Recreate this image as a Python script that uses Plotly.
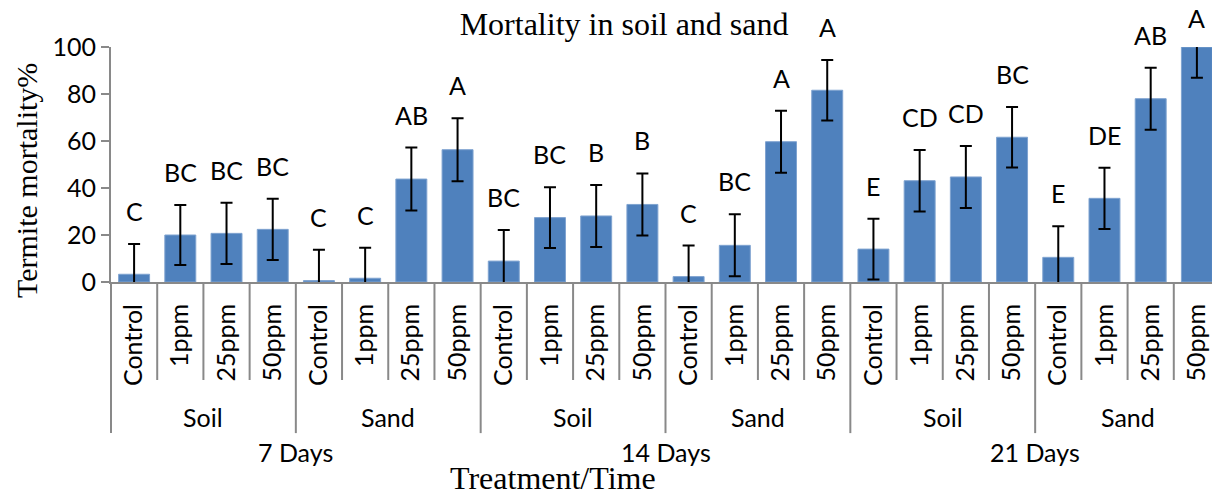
import plotly.graph_objects as go

times = ['7 Days', '14 Days', '21 Days']
substrates = ['Soil', 'Sand']
treatments = ['Control', '1ppm', '25ppm', '50ppm']

# mean mortality (%) in order: time > substrate > treatment
mortality = [3.3, 20.0, 20.7, 22.4, 0.6, 1.6, 43.8, 56.3,
             8.9, 27.4, 28.1, 33.0, 2.3, 15.6, 59.7, 81.6,
             14.0, 43.1, 44.7, 61.6, 10.5, 35.6, 78.0, 100.0]
errors = [12.9, 12.8, 13.0, 13.0, 13.1, 13.0, 13.4, 13.4,
          13.2, 12.9, 13.2, 13.2, 13.2, 13.2, 13.2, 12.9,
          12.9, 13.1, 13.2, 12.9, 13.2, 13.0, 13.2, 13.1]
letters = ['C', 'BC', 'BC', 'BC', 'C', 'C', 'AB', 'A',
           'BC', 'BC', 'B', 'B', 'C', 'BC', 'A', 'A',
           'E', 'CD', 'CD', 'BC', 'E', 'DE', 'AB', 'A']

n = len(mortality)
xs = list(range(n))
tick_text = [t for _ in times for _ in substrates for t in treatments]

sans = 'Lato'
serif = 'Liberation Serif'
grey = '#898989'
fsize = 25

fig = go.Figure()
fig.add_trace(go.Bar(
    x=xs, y=mortality, width=0.67,
    marker=dict(color='#4F81BD', line=dict(color='#7FA3D0', width=1)),
    error_y=dict(type='data', array=errors, color='black', thickness=2, width=6),
))

# significance letters above error bars
for i in xs:
    top = mortality[i] + errors[i]
    shift = 33 if top <= 100 else 29
    fig.add_annotation(x=i, y=min(top, 100), text=letters[i], showarrow=False,
                       yanchor='middle', yshift=shift,
                       font=dict(family=sans, size=fsize, color='black'))

# divider lines under the axis
per_sub = len(treatments)
for i in range(n + 1):
    long = i % per_sub == 0
    fig.add_shape(type='line', xref='paper', yref='paper',
                  x0=i / n, x1=i / n, y0=0, y1=-0.643 if long else -0.417,
                  line=dict(color=grey, width=2))

# substrate labels
for k in range(len(times) * len(substrates)):
    fig.add_annotation(x=k * per_sub + (per_sub - 1) / 2, y=-0.574, xref='x', yref='paper',
                       text=substrates[k % len(substrates)], showarrow=False,
                       xanchor='center', yanchor='middle',
                       font=dict(family=sans, size=fsize, color='black'))

# time labels
per_time = per_sub * len(substrates)
for k, t in enumerate(times):
    fig.add_annotation(x=k * per_time + (per_time - 1) / 2, y=-0.723, xref='x', yref='paper',
                       text=t, showarrow=False, xanchor='center', yanchor='middle',
                       font=dict(family=sans, size=fsize, color='black'))

fig.add_annotation(x=(553 - 111) / 1109, y=-0.834, xref='paper', yref='paper',
                   text='Treatment/Time', showarrow=False, xanchor='center', yanchor='middle',
                   font=dict(family=serif, size=32, color='black'))
fig.add_annotation(x=-0.0757, y=0.43, xref='paper', yref='paper', text='Termite mortality%',
                   textangle=-90, showarrow=False, xanchor='center', yanchor='middle',
                   font=dict(family=serif, size=30, color='black'))

# page body has an 8px offset, margins compensate for it
fig.update_layout(
    width=1220, height=493,
    margin=dict(l=103, r=8, t=39, b=219, autoexpand=False),
    plot_bgcolor='white', paper_bgcolor='white',
    showlegend=False,
    title=dict(text='Mortality in soil and sand', x=0.505, xref='container', xanchor='center',
               y=1 - 16 / 493, yanchor='middle',
               font=dict(family=serif, size=32, color='black')),
    xaxis=dict(range=[-0.5, n - 0.5], tickvals=xs, ticktext=tick_text, tickangle=-90,
               showline=True, linecolor=grey, linewidth=2, ticks='', ticklabelstandoff=10,
               showgrid=False, zeroline=False, automargin=False,
               tickfont=dict(family=sans, size=fsize, color='black')),
    yaxis=dict(range=[0, 100], dtick=20, showline=True, linecolor=grey, linewidth=2,
               ticks='outside', ticklen=8, tickwidth=2, tickcolor=grey,
               showgrid=False, zeroline=False, automargin=False,
               tickfont=dict(family=sans, size=fsize, color='black')),
)

fig.write_html('out.html')
